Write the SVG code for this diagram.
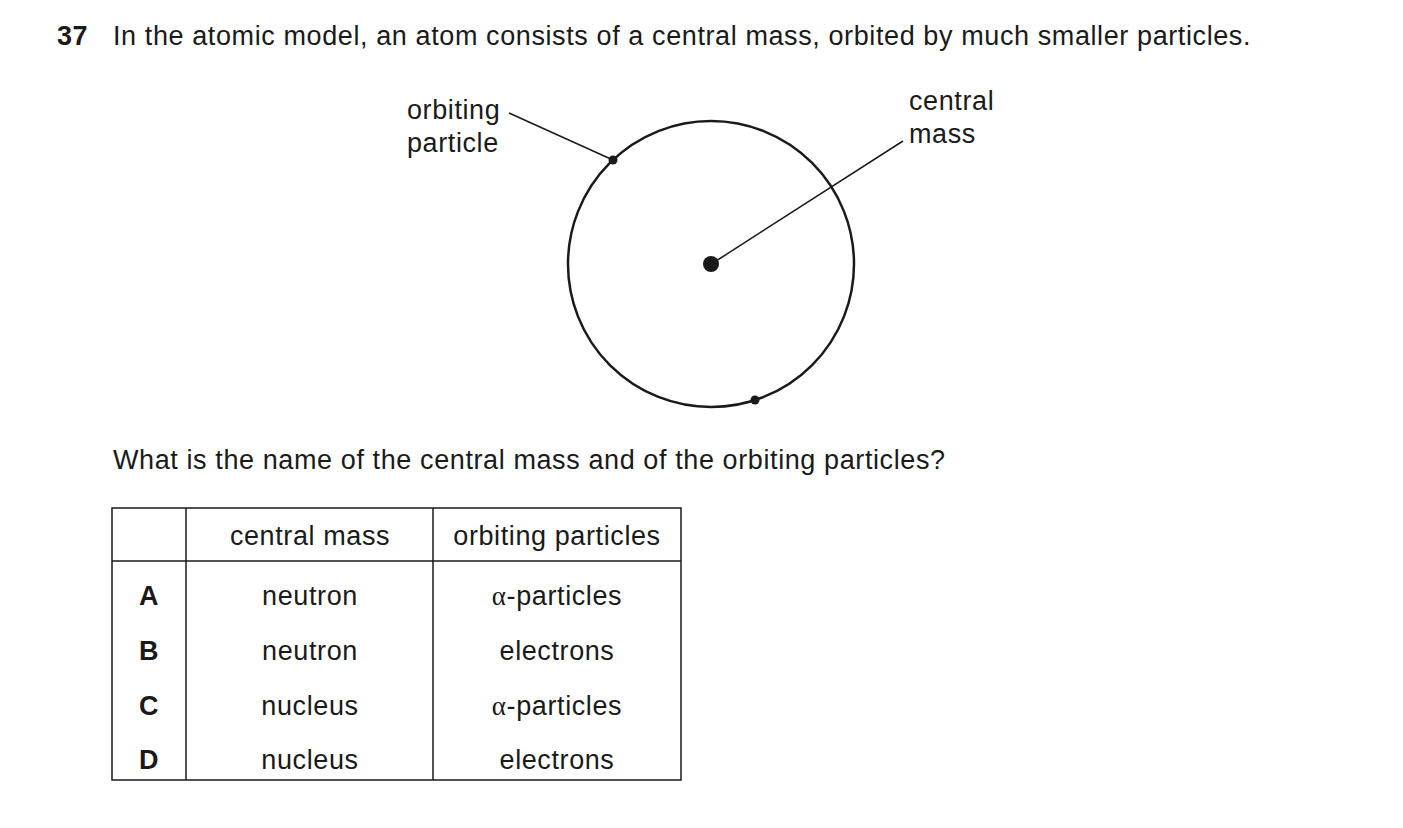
<svg xmlns="http://www.w3.org/2000/svg" width="1403" height="828" viewBox="0 0 1403 828">
<style>
text{font-family:"Liberation Sans",Arial,sans-serif;font-size:27px;letter-spacing:0.6px;fill:#1a1a1a}
.c{text-anchor:middle}
.b{font-weight:bold}
.ln{stroke:#1a1a1a;stroke-width:1.5;fill:none}
</style>
<rect width="1403" height="828" fill="#fff"/>
<text x="57" y="45" class="b">37</text>
<text x="113" y="45">In the atomic model, an atom consists of a central mass, orbited by much smaller particles.</text>
<g id="atom">
<circle cx="711" cy="264" r="143" fill="none" stroke="#1a1a1a" stroke-width="2.5"/>
<circle cx="711" cy="264" r="8" fill="#1a1a1a"/>
<circle cx="613" cy="160" r="4.5" fill="#1a1a1a"/>
<circle cx="755" cy="400" r="4.5" fill="#1a1a1a"/>
</g>
<g id="connectors">
<line class="ln" x1="509" y1="113" x2="613" y2="160"/>
<line class="ln" x1="716" y1="261" x2="903" y2="141"/>
</g>
<g id="labels">
<text x="407" y="119">orbiting</text>
<text x="407" y="152">particle</text>
<text x="909" y="110">central</text>
<text x="909" y="143">mass</text>
</g>
<text x="113" y="469">What is the name of the central mass and of the orbiting particles?</text>
<g id="table">
<rect x="112" y="508" width="569" height="272" class="ln"/>
<line class="ln" x1="186" y1="508" x2="186" y2="780"/>
<line class="ln" x1="433" y1="508" x2="433" y2="780"/>
<line class="ln" x1="112" y1="561" x2="681" y2="561"/>
<text x="310" y="545" class="c">central mass</text>
<text x="557" y="545" class="c">orbiting particles</text>
<text x="149" y="605" class="c b">A</text>
<text x="149" y="660" class="c b">B</text>
<text x="149" y="715" class="c b">C</text>
<text x="149" y="769" class="c b">D</text>
<text x="310" y="605" class="c">neutron</text>
<text x="310" y="660" class="c">neutron</text>
<text x="310" y="715" class="c">nucleus</text>
<text x="310" y="769" class="c">nucleus</text>
<text x="557" y="605" class="c"><tspan font-family="Liberation Serif,serif">α</tspan>-particles</text>
<text x="557" y="660" class="c">electrons</text>
<text x="557" y="715" class="c"><tspan font-family="Liberation Serif,serif">α</tspan>-particles</text>
<text x="557" y="769" class="c">electrons</text>
</g>
</svg>
